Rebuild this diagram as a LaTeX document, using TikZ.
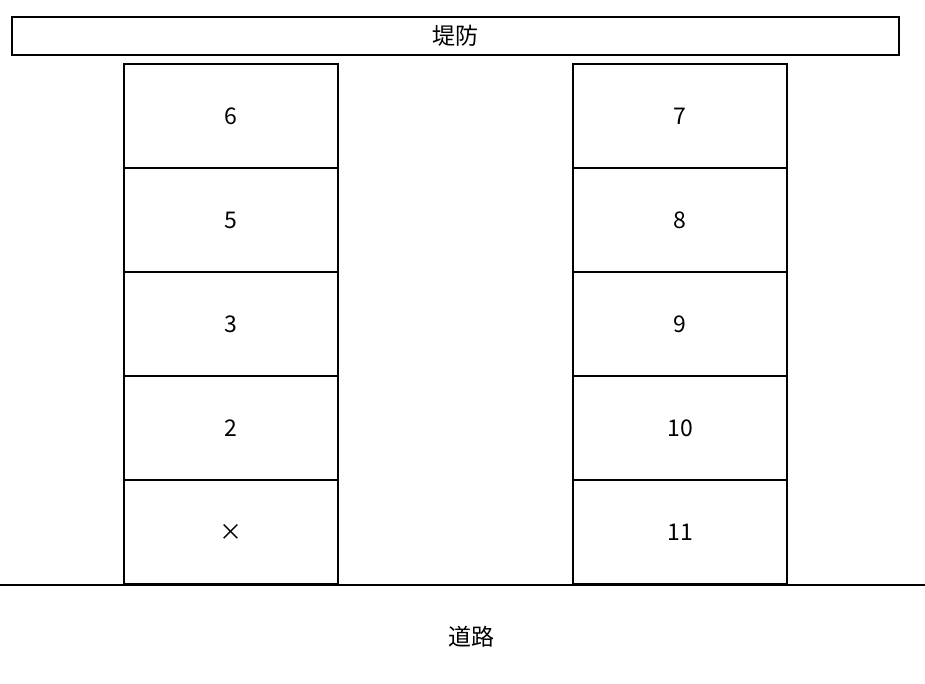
\documentclass[tikz,border=0pt]{standalone}
\usepackage{fontspec}
\setmainfont{Noto Sans CJK JP}
\usetikzlibrary{positioning}
\begin{document}
\begin{tikzpicture}
[x=1pt, y=-1pt, node distance=0pt,
 lot/.style={draw, line width=1.1pt, outer sep=0pt, inner sep=0pt, minimum width=214pt, minimum height=104pt, font=\fontsize{23}{26}\selectfont},
 bank/.style={draw, line width=1.3pt, outer sep=0pt, inner sep=0pt, minimum width=887pt, minimum height=38pt, font=\fontsize{23}{26}\selectfont}]
\useasboundingbox (0,0) rectangle (925,684);
\node[bank] (bank) at (455.5,36) {堤防};
% left row
\node[lot] (l6) at (231,116) {6};
\node[lot, below=of l6] (l5) {5};
\node[lot, below=of l5] (l3) {3};
\node[lot, below=of l3] (l2) {2};
\node[lot, below=of l2] (lx) {×};
% right row
\node[lot] (r7) at (680,116) {7};
\node[lot, below=of r7] (r8) {8};
\node[lot, below=of r8] (r9) {9};
\node[lot, below=of r9] (r10) {10};
\node[lot, below=of r10] (r11) {11};
% road
\coordinate (roadW) at (0,585);
\coordinate (roadE) at (925,585);
\draw[line width=1.3pt] (roadW) -- (roadE);
\node[font=\fontsize{23}{26}\selectfont] (road) at (471,637) {道路};
\end{tikzpicture}
\end{document}
